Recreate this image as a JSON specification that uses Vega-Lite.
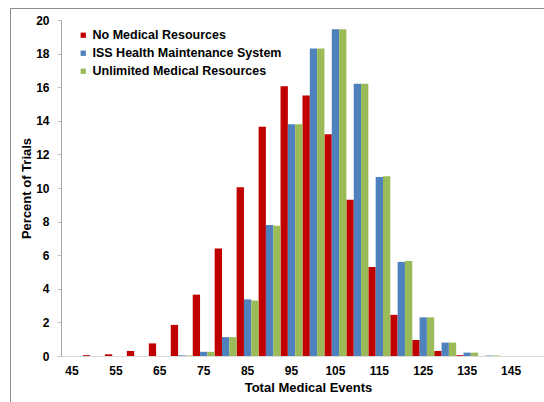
{
  "$schema": "https://vega.github.io/schema/vega-lite/v6.json",
  "width": 483,
  "height": 336,
  "autosize": {"type": "none"},
  "padding": {"left": 61, "top": 20, "right": 0, "bottom": 46},
  "background": "white",
  "data": {
    "values": [
      {"events": 45, "series": "No Medical Resources", "pct": 0},
      {"events": 50, "series": "No Medical Resources", "pct": 0.05},
      {"events": 55, "series": "No Medical Resources", "pct": 0.1},
      {"events": 60, "series": "No Medical Resources", "pct": 0.3},
      {"events": 65, "series": "No Medical Resources", "pct": 0.75},
      {"events": 70, "series": "No Medical Resources", "pct": 1.85},
      {"events": 75, "series": "No Medical Resources", "pct": 3.65},
      {"events": 80, "series": "No Medical Resources", "pct": 6.4},
      {"events": 85, "series": "No Medical Resources", "pct": 10.05},
      {"events": 90, "series": "No Medical Resources", "pct": 13.65},
      {"events": 95, "series": "No Medical Resources", "pct": 16.05},
      {"events": 100, "series": "No Medical Resources", "pct": 15.5},
      {"events": 105, "series": "No Medical Resources", "pct": 13.2},
      {"events": 110, "series": "No Medical Resources", "pct": 9.3},
      {"events": 115, "series": "No Medical Resources", "pct": 5.3},
      {"events": 120, "series": "No Medical Resources", "pct": 2.45},
      {"events": 125, "series": "No Medical Resources", "pct": 0.95},
      {"events": 130, "series": "No Medical Resources", "pct": 0.3},
      {"events": 135, "series": "No Medical Resources", "pct": 0.05},
      {"events": 140, "series": "No Medical Resources", "pct": 0},
      {"events": 145, "series": "No Medical Resources", "pct": 0},
      {"events": 45, "series": "ISS Health Maintenance System", "pct": 0},
      {"events": 50, "series": "ISS Health Maintenance System", "pct": 0},
      {"events": 55, "series": "ISS Health Maintenance System", "pct": 0},
      {"events": 60, "series": "ISS Health Maintenance System", "pct": 0},
      {"events": 65, "series": "ISS Health Maintenance System", "pct": 0},
      {"events": 70, "series": "ISS Health Maintenance System", "pct": 0.04},
      {"events": 75, "series": "ISS Health Maintenance System", "pct": 0.25},
      {"events": 80, "series": "ISS Health Maintenance System", "pct": 1.12},
      {"events": 85, "series": "ISS Health Maintenance System", "pct": 3.37},
      {"events": 90, "series": "ISS Health Maintenance System", "pct": 7.8},
      {"events": 95, "series": "ISS Health Maintenance System", "pct": 13.8},
      {"events": 100, "series": "ISS Health Maintenance System", "pct": 18.3},
      {"events": 105, "series": "ISS Health Maintenance System", "pct": 19.45},
      {"events": 110, "series": "ISS Health Maintenance System", "pct": 16.2},
      {"events": 115, "series": "ISS Health Maintenance System", "pct": 10.65},
      {"events": 120, "series": "ISS Health Maintenance System", "pct": 5.6},
      {"events": 125, "series": "ISS Health Maintenance System", "pct": 2.3},
      {"events": 130, "series": "ISS Health Maintenance System", "pct": 0.8},
      {"events": 135, "series": "ISS Health Maintenance System", "pct": 0.2},
      {"events": 140, "series": "ISS Health Maintenance System", "pct": 0.03},
      {"events": 145, "series": "ISS Health Maintenance System", "pct": 0},
      {"events": 45, "series": "Unlimited Medical Resources", "pct": 0},
      {"events": 50, "series": "Unlimited Medical Resources", "pct": 0},
      {"events": 55, "series": "Unlimited Medical Resources", "pct": 0},
      {"events": 60, "series": "Unlimited Medical Resources", "pct": 0},
      {"events": 65, "series": "Unlimited Medical Resources", "pct": 0},
      {"events": 70, "series": "Unlimited Medical Resources", "pct": 0.03},
      {"events": 75, "series": "Unlimited Medical Resources", "pct": 0.25},
      {"events": 80, "series": "Unlimited Medical Resources", "pct": 1.12},
      {"events": 85, "series": "Unlimited Medical Resources", "pct": 3.3},
      {"events": 90, "series": "Unlimited Medical Resources", "pct": 7.75},
      {"events": 95, "series": "Unlimited Medical Resources", "pct": 13.8},
      {"events": 100, "series": "Unlimited Medical Resources", "pct": 18.3},
      {"events": 105, "series": "Unlimited Medical Resources", "pct": 19.45},
      {"events": 110, "series": "Unlimited Medical Resources", "pct": 16.2},
      {"events": 115, "series": "Unlimited Medical Resources", "pct": 10.7},
      {"events": 120, "series": "Unlimited Medical Resources", "pct": 5.65},
      {"events": 125, "series": "Unlimited Medical Resources", "pct": 2.3},
      {"events": 130, "series": "Unlimited Medical Resources", "pct": 0.8},
      {"events": 135, "series": "Unlimited Medical Resources", "pct": 0.2},
      {"events": 140, "series": "Unlimited Medical Resources", "pct": 0.03},
      {"events": 145, "series": "Unlimited Medical Resources", "pct": 0}
    ]
  },
  "layer": [
    {
      "mark": {"type": "bar"},
      "encoding": {
        "x": {
          "field": "events",
          "type": "ordinal",
          "scale": {
            "domain": [45, 50, 55, 60, 65, 70, 75, 80, 85, 90, 95, 100, 105, 110, 115, 120, 125, 130, 135, 140, 145, 150],
            "paddingInner": 0,
            "paddingOuter": 0
          },
          "axis": {
            "orient": "bottom",
            "values": [45, 55, 65, 75, 85, 95, 105, 115, 125, 135, 145],
            "labelAngle": 0,
            "ticks": false,
            "domainColor": "#d9d9d9",
            "labelPadding": 9,
            "title": "Total Medical Events",
            "titleFontSize": 13,
            "titlePadding": 5,
            "titleX": 247
          }
        },
        "xOffset": {
          "field": "series",
          "scale": {"domain": ["No Medical Resources", "ISS Health Maintenance System", "Unlimited Medical Resources"], "paddingInner": 0, "paddingOuter": 0}
        },
        "y": {
          "field": "pct",
          "type": "quantitative",
          "scale": {"domain": [0, 20], "nice": false},
          "axis": {
            "orient": "left",
            "values": [0, 2, 4, 6, 8, 10, 12, 14, 16, 18, 20],
            "grid": false,
            "tickSize": 4,
            "tickColor": "#bfbfbf",
            "domainColor": "#a6a6a6",
            "labelPadding": 8,
            "title": "Percent of Trials",
            "titleFontSize": 13,
            "titlePadding": 2
          }
        },
        "color": {
          "field": "series",
          "type": "nominal",
          "scale": {
            "domain": ["No Medical Resources", "ISS Health Maintenance System", "Unlimited Medical Resources"],
            "range": ["#C00000", "#4F81BD", "#9BBB59"]
          },
          "legend": {
            "title": null,
            "orient": "none",
            "legendX": 16,
            "legendY": 9,
            "symbolType": "square",
            "symbolSize": 28,
            "symbolStrokeWidth": 0,
            "labelFont": "Liberation Sans",
            "labelFontSize": 12.5,
            "labelFontWeight": "bold",
            "labelColor": "#000000",
            "labelLimit": 400,
            "labelOffset": 3,
            "rowPadding": 5,
            "padding": 0
          }
        }
      }
    },
    {
      "mark": {"type": "bar", "opacity": 0},
      "encoding": {
        "x": {
          "field": "pct",
          "type": "quantitative",
          "scale": {"range": [-51, 500]},
          "axis": {"orient": "top", "offset": 12, "labels": false, "ticks": false, "title": null, "grid": false, "domainColor": "#8c8c8c", "domainWidth": 1}
        },
        "y": {
          "field": "pct",
          "type": "quantitative",
          "scale": {"range": [420, -12]},
          "axis": {"orient": "left", "offset": 51, "labels": false, "ticks": false, "title": null, "grid": false, "domainColor": "#8c8c8c", "domainWidth": 1}
        }
      }
    }
  ],
  "resolve": {"scale": {"x": "independent", "y": "independent"}, "axis": {"x": "independent", "y": "independent"}},
  "config": {
    "view": {"stroke": null},
    "font": "Liberation Sans",
    "axis": {
      "labelFont": "Liberation Sans",
      "labelFontSize": 12,
      "labelFontWeight": "bold",
      "labelColor": "#000000",
      "titleFont": "Liberation Sans",
      "titleFontSize": 12,
      "titleFontWeight": "bold",
      "titleColor": "#000000"
    }
  }
}
